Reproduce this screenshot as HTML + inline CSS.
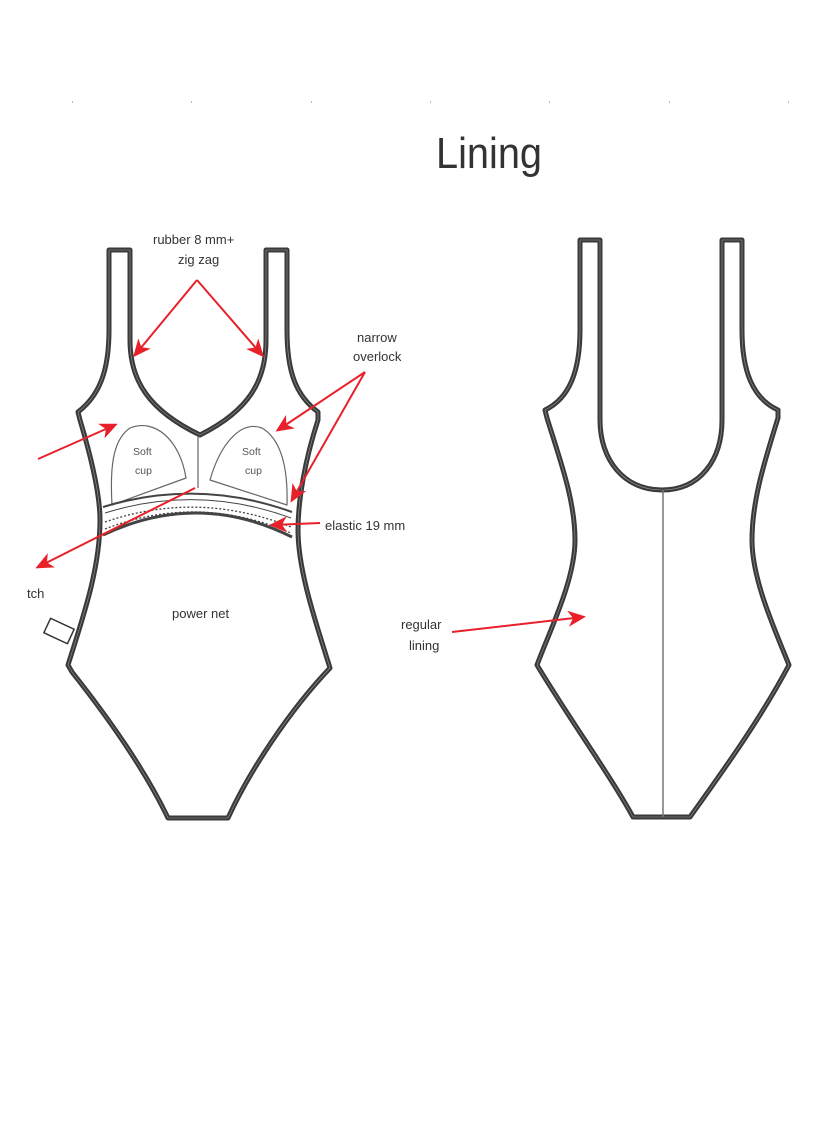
<!DOCTYPE html>
<html><head><meta charset="utf-8"><style>
html,body{margin:0;padding:0;background:#fff}
svg{display:block}
text{font-family:"Liberation Sans",sans-serif;fill:#333}
</style></head><body>
<svg width="840" height="1136" viewBox="0 0 840 1136" xmlns="http://www.w3.org/2000/svg">
<defs>
<marker id="ah" markerWidth="18" markerHeight="16" refX="15" refY="8" orient="auto" markerUnits="userSpaceOnUse" viewBox="0 0 18 16">
<path d="M0,0 L18,8 L0,16 L5,8 Z" fill="#e8202a"/>
</marker>
</defs>
<g fill="#bbb">
<rect x="72" y="101" width="1" height="2"/><rect x="191" y="101" width="1" height="2"/><rect x="311" y="101" width="1" height="2"/><rect x="430" y="101" width="1" height="2"/><rect x="549" y="101" width="1" height="2"/><rect x="669" y="101" width="1" height="2"/><rect x="788" y="101" width="1" height="2"/>
</g>
<text x="436" y="168" font-size="44" textLength="106" lengthAdjust="spacingAndGlyphs">Lining</text>

<!-- front -->
<g fill="none" stroke-linejoin="round">
<path d="M109,250 L109,330 C109,370 100,395 78,412 L80,420 C92,460 100,495 100,520 C100,570 82,620 68,665 L72,672 C110,720 145,770 168,818 L228,818 C250,770 290,710 330,668 C315,620 298,570 298,530 C298,500 305,460 318,420 L318,412 C295,395 287,370 287,330 L287,250 L266,250 L266,340 C266,380 250,410 200,435 C148,410 130,380 130,340 L130,250 Z" stroke="#3a3a3a" stroke-width="5"/>
<path d="M109,250 L109,330 C109,370 100,395 78,412 L80,420 C92,460 100,495 100,520 C100,570 82,620 68,665 L72,672 C110,720 145,770 168,818 L228,818 C250,770 290,710 330,668 C315,620 298,570 298,530 C298,500 305,460 318,420 L318,412 C295,395 287,370 287,330 L287,250 L266,250 L266,340 C266,380 250,410 200,435 C148,410 130,380 130,340 L130,250 Z" stroke="#999" stroke-width="0.6"/>
<!-- cups -->
<path d="M112,505 C110,470 112,440 130,428 C155,418 180,440 186,478 Z" stroke="#666" stroke-width="1.2"/>
<path d="M210,480 C220,445 240,420 262,428 C282,440 288,470 287,505 Z" stroke="#666" stroke-width="1.2"/>
<path d="M198,436 L198,488" stroke="#666" stroke-width="1.2"/>
<!-- elastic band -->
<path d="M103,507 Q198,478 292,512" stroke="#444" stroke-width="2"/>
<path d="M103,535 Q198,490 292,537" stroke="#444" stroke-width="3"/>
<path d="M105,513 Q198,484 291,518" stroke="#444" stroke-width="1"/>
<path d="M105,522 Q198,490 291,527" stroke="#444" stroke-width="1.3" stroke-dasharray="2,2"/>
<path d="M105,529 Q198,493 291,533" stroke="#444" stroke-width="1.3" stroke-dasharray="2,2"/>
<!-- tag -->
<rect x="46" y="623" width="26" height="16" transform="rotate(25 59 631)" stroke="#333" stroke-width="1.5" fill="#fff"/>
</g>

<!-- back -->
<g fill="none" stroke-linejoin="round">
<path d="M580,240 L580,330 C580,370 570,398 545,410 L547,418 C560,460 575,500 575,540 C575,580 550,630 537,665 C570,720 610,775 633,817 L690,817 C720,775 760,720 789,665 C775,630 752,580 752,540 C752,500 765,460 778,418 L778,410 C752,398 742,370 742,330 L742,240 L722,240 L722,330 L722,420 C722,460 700,490 662,490 C624,490 600,460 600,420 L600,240 Z" stroke="#3a3a3a" stroke-width="5"/>
<path d="M580,240 L580,330 C580,370 570,398 545,410 L547,418 C560,460 575,500 575,540 C575,580 550,630 537,665 C570,720 610,775 633,817 L690,817 C720,775 760,720 789,665 C775,630 752,580 752,540 C752,500 765,460 778,418 L778,410 C752,398 742,370 742,330 L742,240 L722,240 L722,330 L722,420 C722,460 700,490 662,490 C624,490 600,460 600,420 L600,240 Z" stroke="#999" stroke-width="0.6"/>
<path d="M663,490 L663,817" stroke="#777" stroke-width="1.5"/>
</g>

<!-- arrows -->
<g stroke="#e8202a" stroke-width="2" fill="none" marker-end="url(#ah)">
<path d="M197,280 L135,355"/>
<path d="M197,280 L262,355"/>
<path d="M365,372 L278,430"/>
<path d="M365,372 L292,500"/>
<path d="M320,523 L272,525"/>
<path d="M38,459 L115,425"/>
<path d="M195,488 L38,567"/>
<path d="M452,632 L583,617"/>
</g>

<g font-size="13">
<text x="153" y="244">rubber 8 mm+</text>
<text x="178" y="264">zig zag</text>
<text x="357" y="342">narrow</text>
<text x="353" y="361">overlock</text>
<text x="325" y="530">elastic 19 mm</text>
<text x="27" y="598">tch</text>
<text x="172" y="618">power net</text>
<text x="401" y="629">regular</text>
<text x="409" y="650">lining</text>
</g>
<g font-size="10.5">
<text x="133" y="455" style="fill:#555">Soft</text>
<text x="135" y="474" style="fill:#555">cup</text>
<text x="242" y="455" style="fill:#555">Soft</text>
<text x="245" y="474" style="fill:#555">cup</text>
</g>
</svg>
</body></html>
